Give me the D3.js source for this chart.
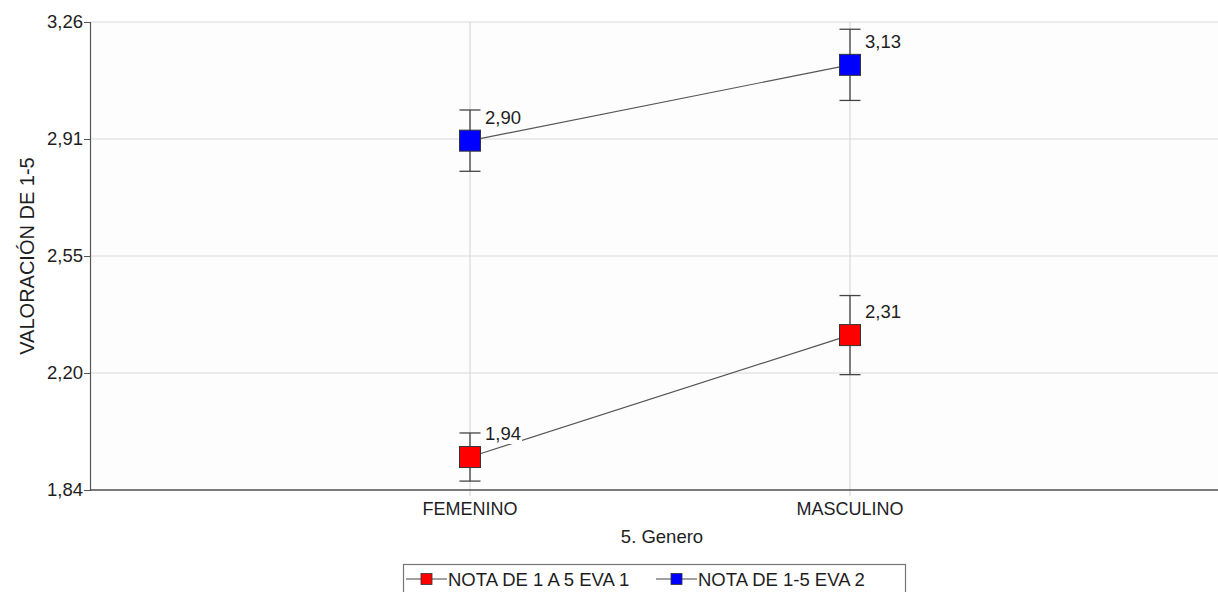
<!DOCTYPE html>
<html>
<head>
<meta charset="utf-8">
<script src="https://cdn.jsdelivr.net/npm/d3@7"></script>
<style>
  html, body { margin: 0; padding: 0; background: #ffffff; overflow: hidden; }
  svg { display: block; font-family: Arial, "Liberation Sans", sans-serif; }
</style>
</head>
<body>
<svg id="chart" width="1218" height="592"></svg>
<script>
// Categories on the x axis
const categories = ["FEMENINO", "MASCULINO"];

// Means per group and half-widths of the error bars
const seriesNames = ["NOTA DE 1 A 5 EVA 1", "NOTA DE 1-5 EVA 2"];
const eva1Means = [1.94, 2.31];
const eva1Err = [0.073, 0.12];
const eva2Means = [2.90, 3.13];
const eva2Err = [0.093, 0.108];
const seriesColors = ["#ff0000", "#0000ff"];

// Y axis ticks
const yTickValues = [1.84, 2.195, 2.55, 2.905, 3.26];
const yTickLabels = ["1,84", "2,20", "2,55", "2,91", "3,26"];

const xTitle = "5. Genero";
const yTitle = "VALORACIÓN DE 1-5";

const fmt = v => v.toFixed(2).replace(".", ",");

const svg = d3.select("#chart");
const margin = { left: 90, right: -12, top: 22, bottom: 102 };
const W = 1218, H = 592;
const plotLeft = margin.left, plotRight = W - margin.right;
const plotTop = margin.top, plotBottom = H - margin.bottom;

const x = d3.scalePoint().domain(categories).range([plotLeft, plotRight]).padding(1);
const y = d3.scaleLinear().domain([1.84, 3.26]).range([plotBottom, plotTop]);

const textColor = "#1e1e1e";

// Plot background
svg.append("rect")
  .attr("x", plotLeft).attr("y", plotTop)
  .attr("width", plotRight - plotLeft).attr("height", plotBottom - plotTop)
  .attr("fill", "#fdfdfd");

// Horizontal grid lines
svg.append("g").selectAll("line").data(yTickValues).join("line")
  .attr("x1", plotLeft).attr("x2", plotRight)
  .attr("y1", d => y(d)).attr("y2", d => y(d))
  .attr("stroke", "#d9d9d9").attr("stroke-width", 1.2);

// Vertical grid lines at each category
svg.append("g").selectAll("line").data(categories).join("line")
  .attr("x1", d => x(d)).attr("x2", d => x(d))
  .attr("y1", plotTop).attr("y2", plotBottom + 6)
  .attr("stroke", "#d9d9d9").attr("stroke-width", 1.2);

// Y axis
const yAxis = d3.axisLeft(y).tickValues(yTickValues)
  .tickFormat((d, i) => yTickLabels[i]).tickSize(6).tickPadding(1);
const gy = svg.append("g").attr("transform", `translate(${plotLeft},0)`).call(yAxis);
gy.select(".domain").attr("stroke", "#555").attr("stroke-width", 1.2);
gy.selectAll(".tick line").attr("stroke", "#555");
gy.selectAll(".tick text").attr("font-size", 18.5).attr("fill", textColor)
  .attr("font-family", "Arial, 'Liberation Sans', sans-serif");

// X axis baseline
svg.append("line")
  .attr("x1", plotLeft).attr("x2", plotRight)
  .attr("y1", plotBottom).attr("y2", plotBottom)
  .attr("stroke", "#555").attr("stroke-width", 1.5);

// X category labels
svg.append("g").selectAll("text").data(categories).join("text")
  .attr("x", d => x(d)).attr("y", plotBottom + 25)
  .attr("text-anchor", "middle").attr("font-size", 18).attr("fill", textColor)
  .text(d => d);

// Axis titles
svg.append("text")
  .attr("x", (x(categories[0]) + x(categories[1])) / 2 + 2)
  .attr("y", plotBottom + 53)
  .attr("text-anchor", "middle").attr("font-size", 18.5).attr("fill", textColor)
  .text(xTitle);

svg.append("text")
  .attr("transform", `translate(34,${(plotTop + plotBottom) / 2}) rotate(-90)`)
  .attr("text-anchor", "middle").attr("font-size", 20).attr("fill", textColor)
  .text(yTitle);

const series = [
  { name: seriesNames[0], means: eva1Means, err: eva1Err, color: seriesColors[0] },
  { name: seriesNames[1], means: eva2Means, err: eva2Err, color: seriesColors[1] }
];

const box = 21, cap = 21;

series.forEach(s => {
  const pts = categories.map((c, i) => ({ c, v: s.means[i], e: s.err[i] }));
  const g = svg.append("g");

  // Connecting line
  g.append("path")
    .attr("d", d3.line().x(d => x(d.c)).y(d => y(d.v))(pts))
    .attr("fill", "none").attr("stroke", "#555").attr("stroke-width", 1.2);

  // Error bars
  pts.forEach(d => {
    const cx = x(d.c);
    g.append("line").attr("x1", cx).attr("x2", cx)
      .attr("y1", y(d.v + d.e)).attr("y2", y(d.v - d.e))
      .attr("stroke", "#444").attr("stroke-width", 1.3);
    [d.v + d.e, d.v - d.e].forEach(v => {
      g.append("line").attr("x1", cx - cap / 2).attr("x2", cx + cap / 2)
        .attr("y1", y(v)).attr("y2", y(v))
        .attr("stroke", "#444").attr("stroke-width", 1.3);
    });
  });

  // Value labels with a white backing
  pts.forEach(d => {
    const tx = x(d.c) + 15, ty = y(d.v) - 17;
    const t = g.append("text").attr("x", tx).attr("y", ty)
      .attr("font-size", 18.5).attr("fill", textColor).text(fmt(d.v));
    const bb = t.node().getBBox();
    g.insert("rect", () => t.node())
      .attr("x", bb.x - 1).attr("y", bb.y).attr("width", bb.width + 2).attr("height", bb.height)
      .attr("fill", "#fdfdfd");
  });

  // Markers
  g.selectAll("rect.marker").data(pts).join("rect")
    .attr("class", "marker")
    .attr("x", d => x(d.c) - box / 2).attr("y", d => y(d.v) - box / 2)
    .attr("width", box).attr("height", box)
    .attr("fill", s.color).attr("stroke", "#333").attr("stroke-width", 1);
});

// Legend
const lg = svg.append("g");
lg.append("rect").attr("x", 403.5).attr("y", 564.5).attr("width", 502).attr("height", 40)
  .attr("fill", "#fff").attr("stroke", "#777").attr("stroke-width", 1.2);
const legendX = [406, 656];
series.forEach((s, i) => {
  const lx = legendX[i], ly = 579;
  lg.append("line").attr("x1", lx).attr("x2", lx + 41).attr("y1", ly).attr("y2", ly)
    .attr("stroke", "#444").attr("stroke-width", 1.2);
  lg.append("rect").attr("x", lx + 15).attr("y", ly - 5.5).attr("width", 11).attr("height", 11)
    .attr("fill", s.color).attr("stroke", "#333").attr("stroke-width", 0.8);
  lg.append("text").attr("x", lx + 42).attr("y", ly + 7)
    .attr("font-size", 18.5).attr("fill", textColor).text(s.name);
});
</script>
</body>
</html>
